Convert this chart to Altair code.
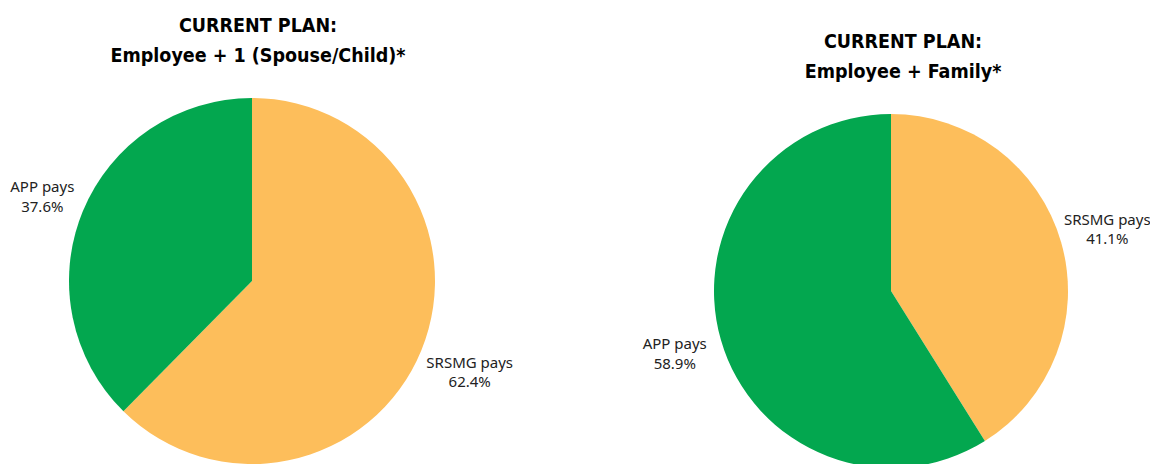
import altair as alt
import pandas as pd

# Data
pies = ["left", "left", "right", "right"]
groups = ["SRSMG pays", "APP pays", "SRSMG pays", "APP pays"]
values = [62.4, 37.6, 41.1, 58.9]
orders = [1, 2, 1, 2]
pct_labels = ["62.4%", "37.6%", "41.1%", "58.9%"]

titles = ["CURRENT PLAN:\nEmployee + 1 (Spouse/Child)*", "CURRENT PLAN:\nEmployee + Family*"]

df = pd.DataFrame({
    "pie": pies,
    "group": groups,
    "value": values,
    "order": orders,
    "label": [g + "\n" + p for g, p in zip(groups, pct_labels)],
})

color_scale = alt.Scale(domain=["SRSMG pays", "APP pays"], range=["#FDBE5B", "#03A74F"])

W, H = 1142, 458

# layout (center x, center y, radius, title x, title baseline y, label dx, label dy)
layout = {
    "left": (244, 273, 183, 250, 24, 4, -6),
    "right": (883, 283, 177, 895, 40, 0, -9),
}

layers = []
for i, name in enumerate(["left", "right"]):
    cx, cy, r, tx, ty, ldx, ldy = layout[name]
    base = alt.Chart(df).transform_filter(alt.datum.pie == name)
    arc = base.mark_arc(strokeWidth=0).encode(
        theta=alt.Theta("value:Q", stack=True),
        color=alt.Color("group:N", scale=color_scale, legend=None),
        order=alt.Order("order:Q"),
        x=alt.value(cx),
        y=alt.value(cy),
        radius=alt.value(r),
    )
    txt = base.mark_text(
        font="Noto Sans", fontSize=15, color="#222222", lineBreak="\n", lineHeight=19.5,
        align="center", baseline="middle", dx=ldx, dy=ldy,
    ).encode(
        theta=alt.Theta("value:Q", stack=True),
        order=alt.Order("order:Q"),
        text="label:N",
        x=alt.value(cx),
        y=alt.value(cy),
        radius=alt.value(r + 48),
    )
    title = alt.Chart(pd.DataFrame({"t": [titles[i]]})).mark_text(
        font="DejaVu Sans Condensed", fontWeight="bold", fontSize=19.5,
        color="#000000", lineBreak="\n", lineHeight=30, align="center", baseline="alphabetic",
    ).encode(
        text="t:N",
        x=alt.value(tx),
        y=alt.value(ty),
    )
    layers += [arc, txt, title]

chart = alt.layer(*layers).resolve_scale(theta="independent").properties(
    width=W, height=H, autosize=alt.AutoSizeParams(type="none"), padding=0,
    background="#ffffff",
).configure_view(stroke=None, strokeWidth=0)

chart.save("out.html", embed_options={"renderer": "svg", "actions": False})
